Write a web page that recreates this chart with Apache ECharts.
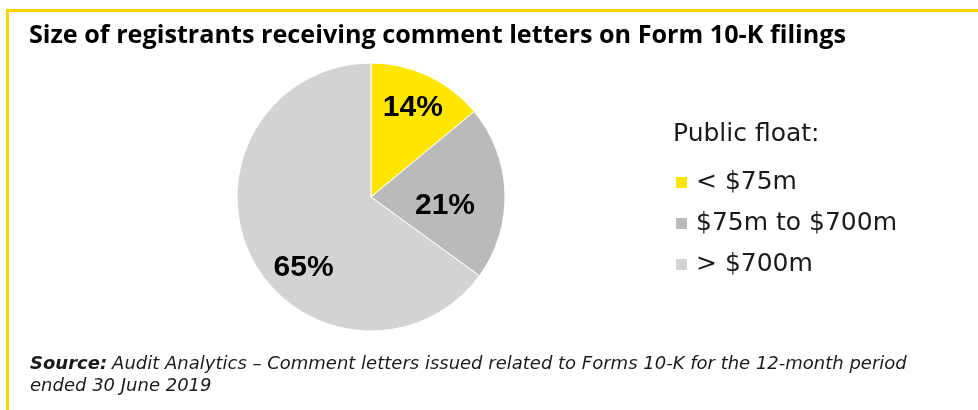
<!DOCTYPE html>
<html>
<head>
<meta charset="utf-8">
<script src="https://cdn.jsdelivr.net/npm/echarts@6/dist/echarts.min.js"></script>
<style>
html,body{margin:0;padding:0;background:#fff;}
#c{width:978px;height:410px;}
</style>
</head>
<body>
<div id="c"></div>
<script>
var categories = ['< $75m', '$75m to $700m', '> $700m'];
var values = [14, 21, 65];
var colors = ['#FFE600', '#BABABA', '#D3D3D3'];
var labelOffsets = [[12, -26], [4, 11], [-5, 39]];

var chart = echarts.init(document.getElementById('c'), null, {renderer: 'canvas'});
var data = categories.map(function (c, i) {
  return {
    name: c,
    value: values[i],
    itemStyle: {color: colors[i]},
    label: {offset: labelOffsets[i]}
  };
});
chart.setOption({
  animation: false,
  backgroundColor: '#fff',
  title: [
    {
      text: 'Size of registrants receiving comment letters on Form 10-K filings',
      left: 29, top: 22, padding: 0,
      textStyle: {fontFamily: 'Open Sans', fontWeight: 'bold', fontSize: 25.2, lineHeight: 27, color: '#000'}
    },
    {
      text: 'Public float:',
      left: 673, top: 122, padding: 0,
      textStyle: {fontFamily: 'DejaVu Sans', fontWeight: 'normal', fontSize: 25, lineHeight: 25, color: '#1a1a1a'}
    },
    {
      text: '{b|Source:} {n|Audit Analytics – Comment letters issued related to Forms 10-K for the 12-month period}\n{n|ended 30 June 2019}',
      left: 30, top: 353, padding: 0,
      textStyle: {
        rich: {
          b: {fontFamily: 'DejaVu Sans', fontStyle: 'italic', fontWeight: 'bold', fontSize: 18, color: '#1a1a1a', lineHeight: 22},
          n: {fontFamily: 'DejaVu Sans', fontStyle: 'italic', fontWeight: 'normal', fontSize: 18, color: '#1a1a1a', lineHeight: 22}
        }
      }
    }
  ],
  legend: {
    orient: 'vertical',
    left: 674, top: 170, padding: 0,
    itemWidth: 13, itemHeight: 13, itemGap: 16,
    icon: 'rect',
    selectedMode: false,
    data: categories,
    textStyle: {fontFamily: 'DejaVu Sans', fontSize: 25, color: '#1a1a1a', lineHeight: 25, padding: [0, 0, 0, 3]}
  },
  graphic: [
    {type: 'rect', shape: {x: 6, y: 9, width: 972, height: 3}, style: {fill: '#FFD400'}},
    {type: 'rect', shape: {x: 6, y: 9, width: 3, height: 401}, style: {fill: '#FFD400'}}
  ],
  series: [{
    type: 'pie',
    center: [371, 197],
    radius: 134,
    startAngle: 90,
    clockwise: true,
    data: data,
    itemStyle: {borderColor: '#fff', borderWidth: 1},
    label: {
      show: true,
      position: 'inside',
      formatter: '{c}%',
      fontFamily: 'Liberation Sans',
      fontWeight: 'bold',
      fontSize: 30,
      color: '#000'
    },
    labelLine: {show: false},
    emphasis: {disabled: true}
  }]
});
</script>
</body>
</html>
